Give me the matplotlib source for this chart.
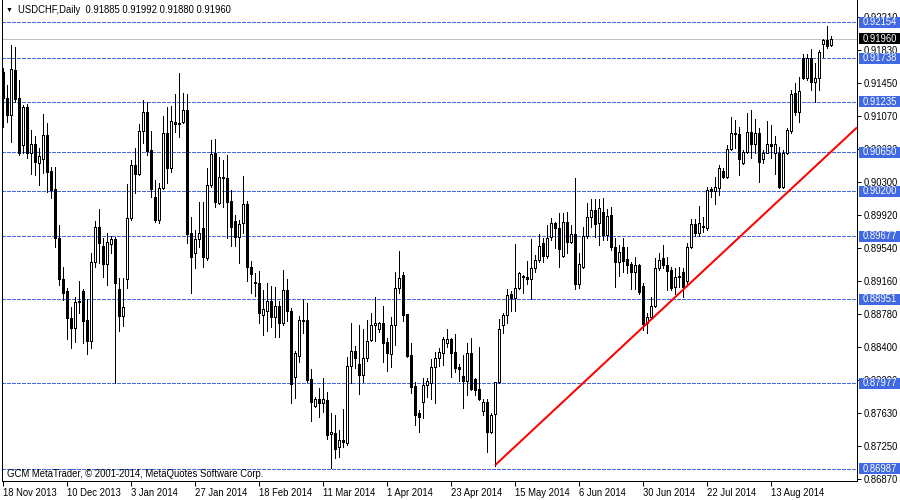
import numpy as np
import matplotlib
matplotlib.use('Agg')
import matplotlib.pyplot as plt
import matplotlib.transforms as mtransforms
from matplotlib.patches import Rectangle

plt.rcParams['font.family'] = ['Liberation Sans', 'DejaVu Sans']
FS = 6.85

# USDCHF daily bars, 18 Nov 2013 .. early Sep 2014
opens = [
    0.91577, 0.91276, 0.91080, 0.91600, 0.91276, 0.90733, 0.91172, 0.90640,
    0.90744, 0.90525, 0.90571, 0.90848, 0.90432, 0.90224, 0.89658, 0.89184,
    0.89045, 0.88733, 0.88617, 0.88918, 0.89045, 0.88710, 0.88467, 0.89380,
    0.89785, 0.89565, 0.89357, 0.89588, 0.89646, 0.89068, 0.88756, 0.89184,
    0.89889, 0.90502, 0.90398, 0.90895, 0.91114, 0.90675, 0.90132, 0.89866,
    0.90236, 0.90872, 0.90467, 0.90999, 0.90976, 0.90999, 0.91137, 0.89716,
    0.89484, 0.89646, 0.89773, 0.89427, 0.90270, 0.90640, 0.90062, 0.90363,
    0.90351, 0.90085, 0.89854, 0.89669, 0.89831, 0.90051, 0.89322, 0.89149,
    0.89138, 0.88768, 0.88814, 0.88929, 0.88745, 0.88872, 0.88675, 0.89057,
    0.88814, 0.88051, 0.88294, 0.88710, 0.88710, 0.88028, 0.87716, 0.87797,
    0.87750, 0.87785, 0.87392, 0.87403, 0.87242, 0.87323, 0.87288, 0.88178,
    0.88351, 0.88201, 0.88074, 0.88271, 0.88479, 0.88652, 0.88606, 0.88675,
    0.88455, 0.88317, 0.88652, 0.89080, 0.89230, 0.88779, 0.88305, 0.87947,
    0.87635, 0.87762, 0.87958, 0.87982, 0.88166, 0.88271, 0.88328, 0.88444,
    0.88490, 0.88340, 0.88166, 0.88062, 0.88005, 0.88328, 0.88028, 0.87912,
    0.87658, 0.87762, 0.87415, 0.87623, 0.87993, 0.88652, 0.88768, 0.89010,
    0.88964, 0.89080, 0.89218, 0.89207, 0.89184, 0.89311, 0.89403, 0.89600,
    0.89450, 0.89669, 0.89831, 0.89773, 0.89450, 0.89843, 0.89612, 0.89704,
    0.89126, 0.89322, 0.89681, 0.89901, 0.89981, 0.89831, 0.89958, 0.89692,
    0.89924, 0.89554, 0.89380, 0.89554, 0.89415, 0.89357, 0.89265, 0.89346,
    0.89103, 0.88675, 0.88745, 0.88872, 0.89311, 0.89427, 0.89346, 0.89288,
    0.89091, 0.89207, 0.89265, 0.89161, 0.89554, 0.89820, 0.89716, 0.89785,
    0.89773, 0.90224, 0.90201, 0.90236, 0.90432, 0.90363, 0.90687, 0.90872,
    0.90860, 0.90525, 0.90652, 0.90883, 0.90744, 0.90872, 0.90571, 0.90640,
    0.90744, 0.90640, 0.90640, 0.90247, 0.90640, 0.90895, 0.91334, 0.91114,
    0.91739, 0.91507, 0.91739, 0.91461, 0.91507, 0.91900, 0.91947, 0.91885,
]
highs = [
    0.91623, 0.91426, 0.91889, 0.91866, 0.91484, 0.91195, 0.91207, 0.90906,
    0.90837, 0.90698, 0.91091, 0.90987, 0.90479, 0.90479, 0.89808, 0.89322,
    0.89080, 0.88860, 0.88976, 0.89161, 0.89068, 0.88953, 0.89484, 0.89854,
    0.89993, 0.89658, 0.89716, 0.89681, 0.89669, 0.89195, 0.89195, 0.90282,
    0.90559, 0.90698, 0.90976, 0.91253, 0.91230, 0.90895, 0.90328, 0.90294,
    0.91068, 0.91172, 0.91184, 0.91322, 0.91565, 0.91334, 0.91322, 0.89901,
    0.89750, 0.90074, 0.90074, 0.90467, 0.90791, 0.90802, 0.90594, 0.90559,
    0.90617, 0.90213, 0.89924, 0.89866, 0.90374, 0.90085, 0.89392, 0.89253,
    0.89276, 0.89057, 0.89138, 0.89103, 0.89091, 0.88929, 0.89288, 0.89184,
    0.88849, 0.88351, 0.88756, 0.88953, 0.88906, 0.88143, 0.87820, 0.87924,
    0.88039, 0.87877, 0.87635, 0.87612, 0.87438, 0.87681, 0.88282, 0.88675,
    0.88409, 0.88652, 0.88606, 0.88710, 0.88791, 0.88976, 0.88687, 0.88872,
    0.88502, 0.88745, 0.89265, 0.89507, 0.89265, 0.88779, 0.88444, 0.87993,
    0.87669, 0.88039, 0.88039, 0.88259, 0.88340, 0.88386, 0.88513, 0.88606,
    0.88502, 0.88548, 0.88201, 0.88305, 0.88444, 0.88502, 0.88039, 0.88398,
    0.87797, 0.87797, 0.87635, 0.87993, 0.88721, 0.88791, 0.89068, 0.89045,
    0.89588, 0.89265, 0.89230, 0.89392, 0.89646, 0.89461, 0.89704, 0.89658,
    0.89808, 0.89889, 0.89843, 0.89947, 0.89947, 0.89958, 0.89808, 0.90351,
    0.89484, 0.89785, 0.90062, 0.90109, 0.90109, 0.90109, 0.90120, 0.89993,
    0.90016, 0.89658, 0.89577, 0.89658, 0.89554, 0.89380, 0.89438, 0.89357,
    0.89138, 0.88791, 0.88976, 0.89427, 0.89484, 0.89577, 0.89438, 0.89322,
    0.89311, 0.89322, 0.89311, 0.89600, 0.89877, 0.89877, 0.90028, 0.89901,
    0.90247, 0.90247, 0.90363, 0.90502, 0.90467, 0.90733, 0.91057, 0.91022,
    0.90941, 0.90675, 0.91103, 0.91137, 0.91033, 0.90929, 0.90675, 0.91010,
    0.90964, 0.90837, 0.90710, 0.90675, 0.90929, 0.91369, 0.91450, 0.91519,
    0.91785, 0.91785, 0.91843, 0.91681, 0.91831, 0.91958, 0.92108, 0.91992,
]
lows = [
    0.90941, 0.90999, 0.90768, 0.91230, 0.90617, 0.90640, 0.90583, 0.90398,
    0.90386, 0.90270, 0.90409, 0.90190, 0.90120, 0.89554, 0.89114, 0.88941,
    0.88490, 0.88386, 0.88455, 0.88791, 0.88444, 0.88317, 0.88386, 0.89322,
    0.89369, 0.89207, 0.89114, 0.89484, 0.87982, 0.88583, 0.88640, 0.89080,
    0.89866, 0.90178, 0.90386, 0.90756, 0.90617, 0.90132, 0.89843, 0.89831,
    0.90224, 0.90294, 0.90421, 0.90883, 0.90825, 0.90987, 0.89600, 0.89022,
    0.89311, 0.89554, 0.89322, 0.89403, 0.90247, 0.90016, 0.90051, 0.90016,
    0.89658, 0.89565, 0.89565, 0.89369, 0.89716, 0.89161, 0.89022, 0.88987,
    0.88675, 0.88536, 0.88583, 0.88629, 0.88513, 0.88513, 0.88652, 0.88698,
    0.87750, 0.87808, 0.88224, 0.88560, 0.87993, 0.87542, 0.87704, 0.87589,
    0.87646, 0.87334, 0.86999, 0.87115, 0.87126, 0.87242, 0.87265, 0.87982,
    0.88155, 0.87854, 0.87993, 0.88236, 0.88467, 0.88467, 0.88571, 0.88224,
    0.88120, 0.88166, 0.88421, 0.89022, 0.88698, 0.88282, 0.87866, 0.87496,
    0.87415, 0.87577, 0.87820, 0.87797, 0.87750, 0.88178, 0.88190, 0.88398,
    0.88051, 0.88109, 0.88005, 0.87692, 0.87843, 0.87901, 0.87843, 0.87785,
    0.87612, 0.87184, 0.87403, 0.87022, 0.87982, 0.88560, 0.88675, 0.88814,
    0.88814, 0.89068, 0.89022, 0.89126, 0.88953, 0.89265, 0.89380, 0.89380,
    0.89427, 0.89635, 0.89542, 0.89322, 0.89438, 0.89484, 0.89600, 0.89068,
    0.89080, 0.89311, 0.89658, 0.89785, 0.89669, 0.89577, 0.89635, 0.89635,
    0.89519, 0.89091, 0.89218, 0.89265, 0.89253, 0.89068, 0.89068, 0.89010,
    0.88594, 0.88560, 0.88733, 0.88860, 0.89288, 0.89311, 0.89057, 0.89057,
    0.89010, 0.89091, 0.88976, 0.89114, 0.89542, 0.89681, 0.89681, 0.89727,
    0.89750, 0.90132, 0.90051, 0.90155, 0.90351, 0.90351, 0.90675, 0.90698,
    0.90386, 0.90513, 0.90640, 0.90583, 0.90640, 0.90305, 0.90525, 0.90640,
    0.90583, 0.90398, 0.90236, 0.90236, 0.90629, 0.90872, 0.91080, 0.90999,
    0.91496, 0.91484, 0.91369, 0.91230, 0.91369, 0.91750, 0.91854, 0.91880,
]
closes = [
    0.91276, 0.91080, 0.91611, 0.91265, 0.90640, 0.91172, 0.90640, 0.90744,
    0.90536, 0.90606, 0.90848, 0.90421, 0.90213, 0.89658, 0.89184, 0.89022,
    0.88733, 0.88617, 0.88918, 0.88929, 0.88698, 0.88467, 0.89380, 0.89785,
    0.89600, 0.89357, 0.89612, 0.89646, 0.89138, 0.88756, 0.88860, 0.89889,
    0.90502, 0.90398, 0.90895, 0.91114, 0.90663, 0.90224, 0.89866, 0.90236,
    0.90872, 0.90467, 0.91010, 0.90976, 0.90987, 0.91137, 0.89704, 0.89438,
    0.89646, 0.89716, 0.89438, 0.90270, 0.90629, 0.90074, 0.90363, 0.90351,
    0.90074, 0.89785, 0.89669, 0.89820, 0.90051, 0.89322, 0.89242, 0.89138,
    0.88791, 0.88837, 0.88929, 0.88745, 0.88872, 0.88675, 0.89057, 0.88814,
    0.87970, 0.88328, 0.88710, 0.88698, 0.88016, 0.87762, 0.87797, 0.87750,
    0.87797, 0.87380, 0.87415, 0.87219, 0.87323, 0.87300, 0.88178, 0.88351,
    0.88271, 0.88074, 0.88271, 0.88467, 0.88652, 0.88675, 0.88675, 0.88444,
    0.88328, 0.88652, 0.89080, 0.89195, 0.88768, 0.88294, 0.87935, 0.87612,
    0.87589, 0.87958, 0.88005, 0.88166, 0.88271, 0.88340, 0.88490, 0.88490,
    0.88328, 0.88155, 0.88143, 0.88005, 0.88328, 0.87912, 0.87901, 0.87797,
    0.87762, 0.87415, 0.87612, 0.87993, 0.88606, 0.88768, 0.88999, 0.88964,
    0.89080, 0.89253, 0.89207, 0.89184, 0.89311, 0.89403, 0.89565, 0.89450,
    0.89658, 0.89831, 0.89773, 0.89531, 0.89843, 0.89612, 0.89704, 0.89126,
    0.89357, 0.89681, 0.89901, 0.89981, 0.89820, 0.90005, 0.89692, 0.89912,
    0.89554, 0.89380, 0.89496, 0.89392, 0.89346, 0.89265, 0.89346, 0.89033,
    0.88664, 0.88745, 0.88872, 0.89311, 0.89403, 0.89346, 0.89276, 0.89080,
    0.89207, 0.89218, 0.89091, 0.89554, 0.89820, 0.89716, 0.89831, 0.89796,
    0.90213, 0.90201, 0.90247, 0.90467, 0.90363, 0.90687, 0.90872, 0.90860,
    0.90571, 0.90652, 0.90883, 0.90744, 0.90872, 0.90536, 0.90640, 0.90744,
    0.90721, 0.90744, 0.90247, 0.90640, 0.90906, 0.91322, 0.91114, 0.91357,
    0.91507, 0.91739, 0.91461, 0.91507, 0.91808, 0.91947, 0.91877, 0.91960,
]

# one date label every 16 bars
date_labels = ['18 Nov 2013', '10 Dec 2013', '3 Jan 2014', '27 Jan 2014',
               '18 Feb 2014', '11 Mar 2014', '1 Apr 2014', '23 Apr 2014',
               '15 May 2014', '6 Jun 2014', '30 Jun 2014', '22 Jul 2014',
               '13 Aug 2014']
label_step = 16

price_ticks = [0.92210, 0.91830, 0.91450, 0.91070, 0.90690, 0.90300, 0.89920,
               0.89540, 0.89160, 0.88780, 0.88400, 0.88020, 0.87630, 0.87250,
               0.86870]

# horizontal support / resistance levels
levels = [0.92154, 0.91738, 0.91235, 0.90650, 0.90200, 0.89677, 0.88951,
          0.87977, 0.86987]
bid = 0.91960

# trend line anchors (bar index, price)
trend_a = (123, 0.87030)
trend_b = (207, 0.90655)

header = 'USDCHF,Daily  0.91885 0.91992 0.91880 0.91960'
copyright_txt = 'GCM MetaTrader, \u00a9 2001-2014, MetaQuotes Software Corp.'

o = np.array(opens)
h = np.array(highs)
l = np.array(lows)
c = np.array(closes)
x = np.arange(len(o))
up = c >= o

fig = plt.figure(figsize=(9, 5), dpi=100)
ax = fig.add_axes([2 / 900, 19 / 500, 855 / 900, 481 / 500])
x_max = 213.5
ax.set_xlim(-0.25, x_max)
ax.set_ylim(0.86848, 0.92409)
ypx = (0.92409 - 0.86848) / 481.0  # price per pixel

blue = '#4169E1'
# levels + bid line
for lv in levels:
    ax.axhline(lv, color=blue, lw=0.72, ls=(0, (4, 2)), zorder=1, antialiased=False)
ax.axhline(bid, color='#C0C0C0', lw=0.72, zorder=1, antialiased=False)

# candles
ax.vlines(x, l, h, color='black', lw=0.72, zorder=3, antialiased=False)
ax.bar(x[up], (c - o)[up], bottom=o[up], width=0.5, color='white',
       edgecolor='black', linewidth=0.72, zorder=4, antialiased=False)
ax.bar(x[~up], (o - c)[~up], bottom=c[~up], width=0.5, color='black',
       edgecolor='black', linewidth=0.72, zorder=4, antialiased=False)

# red trend line, drawn as a ray to the right edge
slope = (trend_b[1] - trend_a[1]) / (trend_b[0] - trend_a[0])
ax.plot([trend_a[0], x_max], [trend_a[1], trend_a[1] + slope * (x_max - trend_a[0])],
        color='red', lw=1.45, zorder=5, solid_capstyle='butt')

# axes styling
ax.spines['top'].set_visible(False)
for s in ['left', 'right', 'bottom']:
    ax.spines[s].set_linewidth(0.72)
ax.yaxis.tick_right()
ax.set_yticks(price_ticks)
ax.set_yticklabels([f'{v:.5f}' for v in price_ticks])
ax.tick_params(axis='y', length=3, width=0.72, pad=1.8, labelsize=FS)
ax.set_xticks(np.arange(len(date_labels)) * label_step)
ax.set_xticklabels(date_labels, ha='left')
ax.tick_params(axis='x', length=3.6, width=0.72, pad=1.5, labelsize=FS)

# price tags on the right, added to the figure so they sit above tick labels
trans = mtransforms.blended_transform_factory(ax.transAxes, ax.transData)
def price_tag(price, fc):
    fig.add_artist(Rectangle((1 + 2 / 855, price - 5.5 * ypx), 42 / 855, 11 * ypx,
                             transform=trans, facecolor=fc, edgecolor='none',
                             zorder=6))
    fig.text(1 + 6 / 855, price, f'{price:.5f}', transform=trans, ha='left',
             va='center', color='white', fontsize=FS, zorder=7)

for lv in levels:
    price_tag(lv, blue)
price_tag(bid, 'black')

# header and footer text
fig.text(9 / 900, 1 - 10 / 500, '\u25bc', fontsize=5, ha='center', va='center')
fig.text(18 / 900, 1 - 10 / 500, header, fontsize=FS, ha='left', va='center')
fig.text(7 / 900, 1 - 474 / 500, copyright_txt, fontsize=FS, ha='left', va='center')

fig.savefig('out.png', dpi=100)
plt.close(fig)
